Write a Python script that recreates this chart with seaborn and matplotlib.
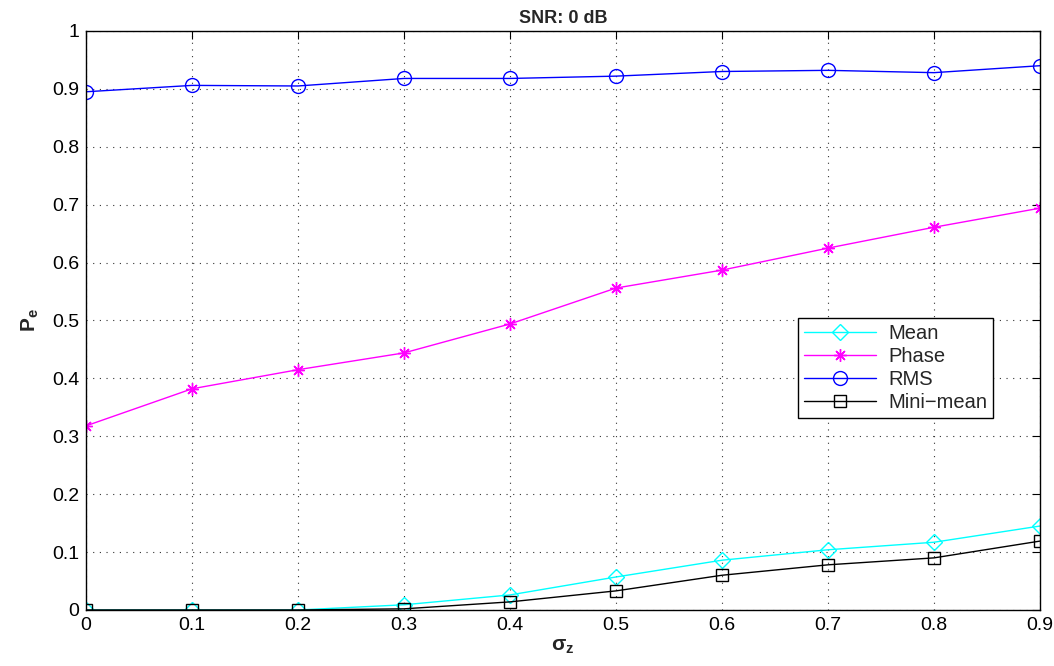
import matplotlib
matplotlib.use("Agg")
import matplotlib.pyplot as plt
import seaborn as sns
import pandas as pd

sigma_z = [0.0, 0.1, 0.2, 0.3, 0.4, 0.5, 0.6, 0.7, 0.8, 0.9]
mean_vals = [0.0, 0.0, 0.0, 0.009, 0.026, 0.057, 0.086, 0.104, 0.117, 0.145]
phase_vals = [0.318, 0.382, 0.415, 0.444, 0.494, 0.556, 0.587, 0.625, 0.661, 0.694]
rms_vals = [0.895, 0.906, 0.905, 0.918, 0.918, 0.922, 0.930, 0.932, 0.928, 0.940]
minimean_vals = [0.0, 0.0, 0.0, 0.002, 0.014, 0.033, 0.060, 0.078, 0.090, 0.119]
x_ticks = [0, 0.1, 0.2, 0.3, 0.4, 0.5, 0.6, 0.7, 0.8, 0.9]
x_ticklabels = ["0", "0.1", "0.2", "0.3", "0.4", "0.5", "0.6", "0.7", "0.8", "0.9"]
y_ticks = [0, 0.1, 0.2, 0.3, 0.4, 0.5, 0.6, 0.7, 0.8, 0.9, 1.0]
y_ticklabels = ["0", "0.1", "0.2", "0.3", "0.4", "0.5", "0.6", "0.7", "0.8", "0.9", "1"]

sns.set_style("white")
plt.rcParams['font.family'] = ['Liberation Sans', 'DejaVu Sans']
plt.rcParams['mathtext.fontset'] = 'custom'
plt.rcParams['mathtext.rm'] = 'Liberation Sans'
plt.rcParams['mathtext.bf'] = 'Liberation Sans:bold'
plt.rcParams['mathtext.it'] = 'Liberation Sans:italic'

fig = plt.figure(figsize=(10.54, 6.66), dpi=100)
ax = fig.add_axes([0.0816, 0.0841, 0.9051, 0.8694])

series = [
    ("Mean", mean_vals, "#00FFFF", "D", 8),
    ("Phase", phase_vals, "#FF00FF", (8, 2, 0), 9),
    ("RMS", rms_vals, "#0000FF", "o", 10),
    ("Mini\u2212mean", minimean_vals, "#000000", "s", 8),
]
for name, vals, color, mk, ms in series:
    df = pd.DataFrame({"x": sigma_z, "y": vals})
    sns.lineplot(data=df, x="x", y="y", ax=ax, color=color, linewidth=1.0,
                 label=name, marker=mk, markersize=ms, markeredgecolor=color,
                 markerfacecolor='none', markeredgewidth=1.0)

ax.set_xlim(0, 0.9)
ax.set_ylim(0, 1)
ax.set_xticks(x_ticks)
ax.set_xticklabels(x_ticklabels)
ax.set_yticks(y_ticks)
ax.set_yticklabels(y_ticklabels)
ax.tick_params(direction='in', length=6, width=0.8, labelsize=14, top=True, right=True,
               colors='#000000', pad=5)
ax.grid(True, linestyle=(0, (1, 5)), color='#333333', linewidth=0.8)
for sp in ax.spines.values():
    sp.set_visible(True)
    sp.set_color('black')
    sp.set_linewidth(1.0)

ax.set_title("SNR: 0 dB", fontsize=13, fontweight='bold', pad=6)
ax.set_xlabel(r"$\mathbf{\sigma_z}$", fontsize=15, labelpad=2)
ax.set_ylabel(r"$\mathbf{P_e}$", fontsize=15, labelpad=8)

leg = ax.legend(loc='upper left', bbox_to_anchor=(0.746, 0.504), fontsize=14.5,
                frameon=True, fancybox=False, edgecolor='black', framealpha=1,
                borderpad=0.3, labelspacing=0.2, handlelength=3.6, handletextpad=0.6,
                borderaxespad=0)
leg.get_frame().set_linewidth(1.0)

fig.savefig("out.png", dpi=100)
